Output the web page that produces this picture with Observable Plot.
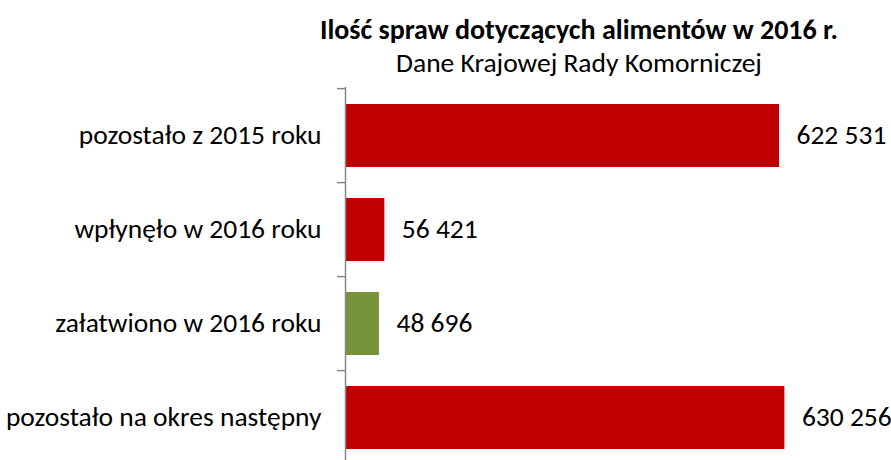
<!DOCTYPE html>
<html>
<head>
<meta charset="utf-8">
<script src="https://cdn.jsdelivr.net/npm/d3@7"></script>
<script src="https://cdn.jsdelivr.net/npm/@observablehq/plot@0.6"></script>
<style>
  html, body { margin: 0; padding: 0; overflow: hidden; background: #fff; }
  #wrap { position: relative; width: 891px; height: 460px; font-family: Carlito, Calibri, "Open Sans", sans-serif; }
  .title { position: absolute; left: 0; width: 1158px; text-align: center; color: #000; white-space: nowrap; line-height: 1.1; }
  #t1 { top: 15px; font-weight: bold; font-size: 28px; }
  #t2 { top: 48px; font-size: 27.5px; }
</style>
</head>
<body>
<div id="wrap">
  <div class="title" id="t1">Ilość spraw dotyczących alimentów w 2016 r.</div>
  <div class="title" id="t2">Dane Krajowej Rady Komorniczej</div>
</div>
<script>
const categories = ["pozostało z 2015 roku", "wpłynęło w 2016 roku", "załatwiono w 2016 roku", "pozostało na okres następny"];
const values = [622531, 56421, 48696, 630256];
const colors = ["#C00000", "#C00000", "#77933C", "#C00000"];

const data = categories.map((c, i) => ({category: c, value: values[i], color: colors[i]}));
const fmt = d3.formatLocale({thousands: " ", grouping: [3], decimal: ","}).format(",");

const W = 891, H = 466, mTop = 87, mBottom = 0, mLeft = 345, mRight = 58;
const step = (H - mTop - mBottom) / categories.length;

const chart = Plot.plot({
  width: W,
  height: H,
  marginTop: mTop,
  marginBottom: mBottom,
  marginLeft: mLeft,
  marginRight: mRight,
  style: {fontFamily: 'Carlito, Calibri, "Open Sans", sans-serif', fontSize: "27.5px", color: "#000", background: "transparent"},
  x: {domain: [0, 700000], axis: null},
  y: {domain: categories, paddingInner: 0.33, paddingOuter: 0.165, label: null},
  marks: [
    Plot.barX(data, {y: "category", x: "value", fill: "color"}),
    Plot.ruleX([0], {stroke: "#868686", strokeWidth: 1.5}),
    Plot.ruleY(categories, {y: d => d, x1: 0, x2: 0, dy: -step / 2, insetLeft: -8, stroke: "#868686", strokeWidth: 1.5}),
    Plot.axisY({tickSize: 0, tickPadding: 24, label: null, fill: "#000", dy: -1}),
    Plot.text(data, {y: "category", x: "value", text: d => fmt(d.value), textAnchor: "start", dx: 17, dy: -1, fill: "#000"})
  ]
});
chart.style.position = "absolute";
chart.style.left = "0";
chart.style.top = "0";
document.getElementById("wrap").prepend(chart);
</script>
</body>
</html>
